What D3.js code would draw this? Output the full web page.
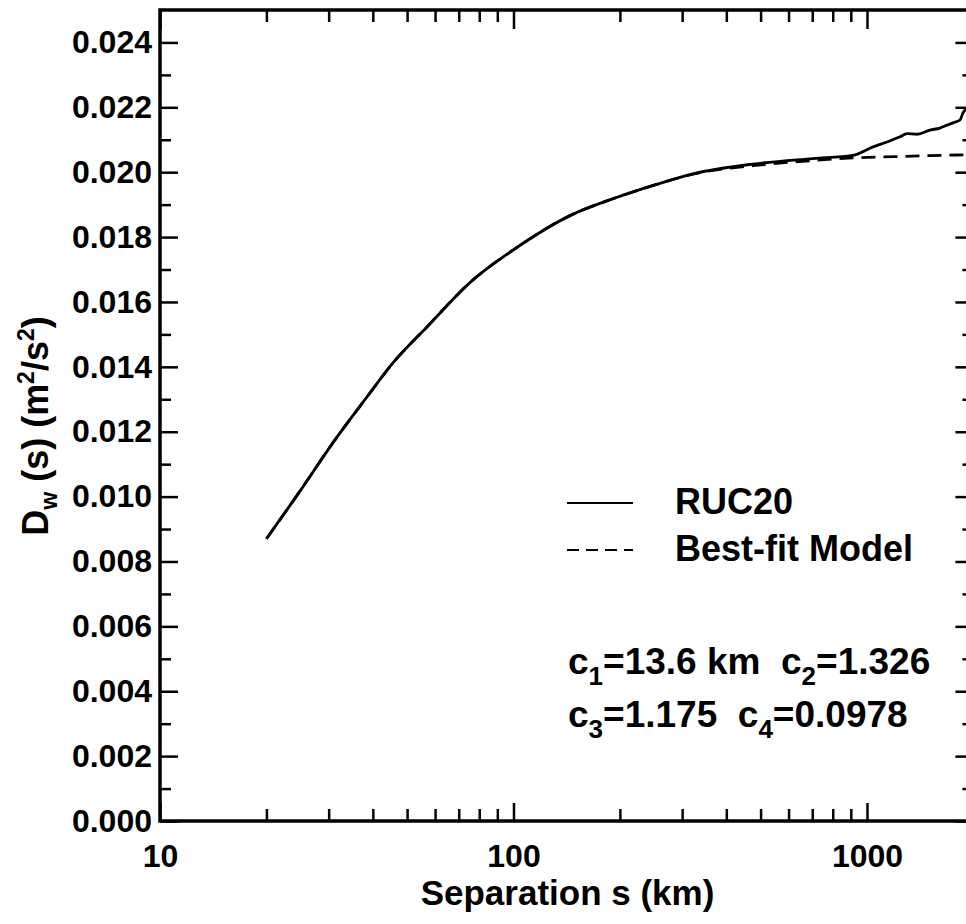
<!DOCTYPE html>
<html>
<head>
<meta charset="utf-8">
<script src="https://cdn.jsdelivr.net/npm/d3@7"></script>
<style>
  body { margin: 0; background: #fff; overflow: hidden; }
  svg text { font-family: "Liberation Sans", Arial, Helvetica, sans-serif; font-weight: bold; fill: #000; }
</style>
</head>
<body>
<div id="plot"></div>
<script>
// Data: separation s (km) -> D_w (m^2/s^2)
const rucS   = [20, 25, 30.8, 38.5, 45.6, 56.9, 76.8, 99.7, 147, 191, 250, 322, 475, 703, 912, 1040, 1139, 1240, 1298, 1384, 1506, 1609, 1684, 1750, 1833, 1870, 2000];
const rucD   = [0.0087, 0.0102, 0.01165, 0.01307, 0.01412, 0.01523, 0.01668, 0.0176, 0.0187, 0.01918, 0.0196, 0.01995, 0.02025, 0.02042, 0.02052, 0.02078, 0.02093, 0.02109, 0.02119, 0.02117, 0.0213, 0.02136, 0.02145, 0.02152, 0.02161, 0.02183, 0.0221];
const modelS = [20, 25, 30.8, 38.5, 45.6, 56.9, 76.8, 99.7, 147, 191, 250, 322, 475, 703, 912, 1200, 1500, 2000];
const modelD = [0.0087, 0.0102, 0.01165, 0.01307, 0.01412, 0.01523, 0.01668, 0.0176, 0.0187, 0.01918, 0.0196, 0.01994, 0.0202, 0.02036, 0.02044, 0.02048, 0.02051, 0.02054];

const xMajor = [10, 100, 1000];
const xMinor = [20, 30, 40, 50, 60, 70, 80, 90, 200, 300, 400, 500, 600, 700, 800, 900, 2000];
const yMajor = [0, 0.002, 0.004, 0.006, 0.008, 0.010, 0.012, 0.014, 0.016, 0.018, 0.020, 0.022, 0.024];
const yMinor = [0.001, 0.003, 0.005, 0.007, 0.009, 0.011, 0.013, 0.015, 0.017, 0.019, 0.021, 0.023];

const legendItems = [
  { label: "RUC20", dash: null },
  { label: "Best-fit Model", dash: "12,7" }
];

const width = 966, height = 924;
const pLeft = 160, pTop = 10, pRight = 973.4, pBottom = 821;

const x = d3.scaleLog().domain([10, 2000]).range([pLeft, pRight]);
const y = d3.scaleLinear().domain([0, 0.025]).range([pBottom, pTop]);

const svg = d3.select("#plot")
    .append("svg")
    .attr("width", width)
    .attr("height", height);

// ticks (all pointing inward)
function styleAxis(g) {
    g.select(".domain").remove();
    g.selectAll("line").attr("stroke", "#000").attr("stroke-width", 2.5);
    g.selectAll("text").style("font-size", "32px");
}

svg.append("g").attr("transform", `translate(${pLeft},0)`)
    .call(d3.axisLeft(y).tickValues(yMajor).tickSize(-18).tickPadding(8).tickFormat(d3.format(".3f")))
    .call(styleAxis);
svg.append("g").attr("transform", `translate(${pLeft},0)`)
    .call(d3.axisLeft(y).tickValues(yMinor).tickSize(-11).tickFormat(""))
    .call(styleAxis);
svg.append("g").attr("transform", `translate(${pRight},0)`)
    .call(d3.axisRight(y).tickValues(yMajor).tickSize(-18).tickFormat(""))
    .call(styleAxis);
svg.append("g").attr("transform", `translate(${pRight},0)`)
    .call(d3.axisRight(y).tickValues(yMinor).tickSize(-11).tickFormat(""))
    .call(styleAxis);

svg.append("g").attr("transform", `translate(0,${pBottom})`)
    .call(d3.axisBottom(x).tickValues(xMajor).tickSize(-18).tickPadding(23).tickFormat(d3.format("d")))
    .call(styleAxis);
svg.append("g").attr("transform", `translate(0,${pBottom})`)
    .call(d3.axisBottom(x).tickValues(xMinor).tickSize(-12).tickFormat(""))
    .call(styleAxis);
svg.append("g").attr("transform", `translate(0,${pTop})`)
    .call(d3.axisTop(x).tickValues(xMajor).tickSize(-19).tickFormat(""))
    .call(styleAxis);
svg.append("g").attr("transform", `translate(0,${pTop})`)
    .call(d3.axisTop(x).tickValues(xMinor).tickSize(-12).tickFormat(""))
    .call(styleAxis);

// frame
svg.append("rect")
    .attr("x", pLeft).attr("y", pTop)
    .attr("width", pRight - pLeft).attr("height", pBottom - pTop)
    .attr("fill", "none")
    .attr("stroke", "#000")
    .attr("stroke-width", 3.5);

// curves
const line = d3.line()
    .curve(d3.curveMonotoneX)
    .x(d => x(d[0]))
    .y(d => y(d[1]));

svg.append("path")
    .datum(modelS.map((s, i) => [s, modelD[i]]))
    .attr("d", line)
    .attr("fill", "none")
    .attr("stroke", "#000")
    .attr("stroke-width", 2.8)
    .attr("stroke-dasharray", "14,8");

svg.append("path")
    .datum(rucS.map((s, i) => [s, rucD[i]]))
    .attr("d", line)
    .attr("fill", "none")
    .attr("stroke", "#000")
    .attr("stroke-width", 2.8);

// legend
const legend = svg.append("g");
legendItems.forEach((d, i) => {
    const ly = 503 + i * 47;
    legend.append("line")
        .attr("x1", 567).attr("x2", 633)
        .attr("y1", ly).attr("y2", ly)
        .attr("stroke", "#000")
        .attr("stroke-width", 2.2)
        .attr("stroke-dasharray", d.dash);
    legend.append("text")
        .attr("x", 675).attr("y", ly + 11)
        .style("font-size", "36px")
        .text(d.label);
});

// fitted parameters
const params = [
    [["c", "1", "=13.6 km  c", "2", "=1.326"], 674],
    [["c", "3", "=1.175  c", "4", "=0.0978"], 727]
];
params.forEach(([parts, by]) => {
    const t = svg.append("text")
        .attr("x", 568).attr("y", by)
        .style("font-size", "37px")
        .style("white-space", "pre");
    parts.forEach((p, j) => {
        const sub = j % 2 === 1;
        t.append("tspan")
            .attr("dy", sub ? 11 : (j > 0 ? -11 : 0))
            .style("font-size", sub ? "26px" : "37px")
            .text(p);
    });
});

// axis titles
svg.append("text")
    .attr("x", (410 + 725) / 2).attr("y", 905)
    .attr("text-anchor", "middle")
    .style("font-size", "35px")
    .text("Separation s (km)");

const yt = svg.append("text")
    .attr("transform", "translate(48,426) rotate(-90)")
    .attr("text-anchor", "middle")
    .style("font-size", "36px")
    .style("white-space", "pre");
yt.append("tspan").text("D");
yt.append("tspan").attr("dy", 9).style("font-size", "23px").text("w");
yt.append("tspan").attr("dy", -9).text(" (s) (m");
yt.append("tspan").attr("dy", -14).style("font-size", "23px").text("2");
yt.append("tspan").attr("dy", 14).text("/s");
yt.append("tspan").attr("dy", -14).style("font-size", "23px").text("2");
yt.append("tspan").attr("dy", 14).text(")");
</script>
</body>
</html>
